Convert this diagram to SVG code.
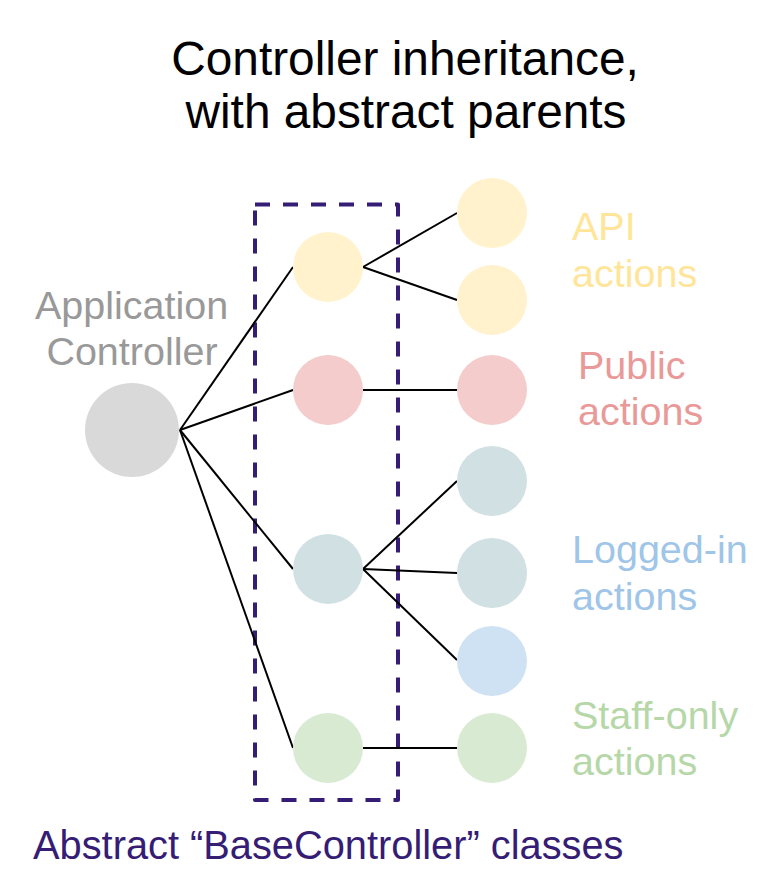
<svg xmlns="http://www.w3.org/2000/svg" width="772" height="890" viewBox="0 0 772 890">
<style>
text { font-family: "Liberation Sans", Arial, sans-serif; }
.title { font-size: 47.8px; fill: #000; text-anchor: middle; }
.lbl { font-size: 39.5px; }
.edge { stroke: #000; stroke-width: 2; fill: none; }
.yellow { fill: #fff2cc; }
.pink { fill: #f4cccc; }
.teal { fill: #d0e0e3; }
.blue { fill: #cfe2f3; }
.green { fill: #d9ead3; }
.grey { fill: #d9d9d9; }
</style>
<rect width="772" height="890" fill="#ffffff"/>
<g id="title">
<text class="title" x="405" y="75">Controller inheritance,</text>
<text class="title" x="406" y="128">with abstract parents</text>
</g>
<g id="abstract-box">
<rect x="255" y="204.5" width="143" height="595.5" fill="none" stroke="#351c75" stroke-width="4" stroke-dasharray="15 13" stroke-linejoin="round"/>
<text x="33" y="859" fill="#351c75" font-size="39.8">Abstract “BaseController” classes</text>
</g>
<g id="connectors">
<line class="edge" x1="180" y1="430" x2="293" y2="267"/>
<line class="edge" x1="180" y1="430" x2="293" y2="390"/>
<line class="edge" x1="180" y1="430" x2="293" y2="569"/>
<line class="edge" x1="180" y1="430" x2="293" y2="748"/>
<line class="edge" x1="363" y1="267" x2="457" y2="213"/>
<line class="edge" x1="363" y1="267" x2="457" y2="300"/>
<line class="edge" x1="363" y1="390" x2="457" y2="390"/>
<line class="edge" x1="363" y1="569" x2="457" y2="481"/>
<line class="edge" x1="363" y1="569" x2="457" y2="573"/>
<line class="edge" x1="363" y1="569" x2="457" y2="660"/>
<line class="edge" x1="363" y1="748" x2="457" y2="748"/>
</g>
<g id="app-controller">
<circle class="grey" cx="132" cy="430" r="47"/>
<text class="lbl" x="131.5" y="319" fill="#999999" text-anchor="middle">Application</text>
<text class="lbl" x="132" y="365" fill="#999999" text-anchor="middle">Controller</text>
</g>
<g id="base-api"><circle class="yellow" cx="328" cy="267" r="35"/></g>
<g id="base-public"><circle class="pink" cx="328" cy="390" r="35"/></g>
<g id="base-loggedin"><circle class="teal" cx="328" cy="569" r="35"/></g>
<g id="base-staff"><circle class="green" cx="328" cy="748" r="35"/></g>
<g id="api-1"><circle class="yellow" cx="492" cy="213" r="35"/></g>
<g id="api-2"><circle class="yellow" cx="492" cy="300" r="35"/></g>
<g id="public-1"><circle class="pink" cx="492" cy="390" r="35"/></g>
<g id="loggedin-1"><circle class="teal" cx="492" cy="481" r="35"/></g>
<g id="loggedin-2"><circle class="teal" cx="492" cy="573" r="35"/></g>
<g id="loggedin-3"><circle class="blue" cx="492" cy="661" r="35"/></g>
<g id="staff-1"><circle class="green" cx="492" cy="748" r="35"/></g>
<g id="label-api">
<text class="lbl" x="572" y="240" fill="#ffe599">API</text>
<text class="lbl" x="572" y="287" fill="#ffe599">actions</text>
</g>
<g id="label-public">
<text class="lbl" x="578" y="379" fill="#ea9999">Public</text>
<text class="lbl" x="578" y="425" fill="#ea9999">actions</text>
</g>
<g id="label-loggedin">
<text class="lbl" x="572" y="563" fill="#9fc5e8">Logged-in</text>
<text class="lbl" x="572" y="610" fill="#9fc5e8">actions</text>
</g>
<g id="label-staff">
<text class="lbl" x="572" y="729" fill="#b6d7a8">Staff-only</text>
<text class="lbl" x="572" y="775" fill="#b6d7a8">actions</text>
</g>
</svg>
